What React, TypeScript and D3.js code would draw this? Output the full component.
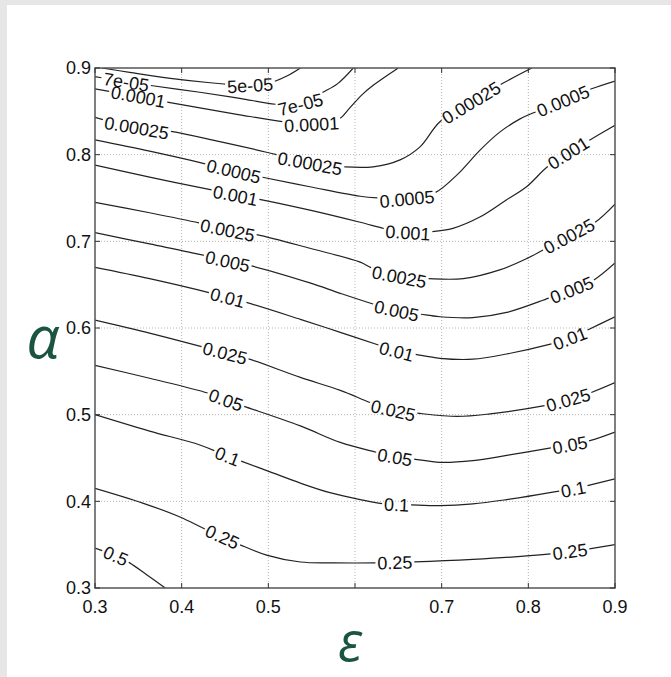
import React, { useEffect, useRef } from 'react';
import * as d3 from 'd3';

const xTicks = [0.3, 0.4, 0.5, 0.6, 0.7, 0.8, 0.9];
const xTickLabels = ['0.3', '0.4', '0.5', '', '0.7', '0.8', '0.9'];
const yTicks = [0.3, 0.4, 0.5, 0.6, 0.7, 0.8, 0.9];
const yTickLabels = ['0.3', '0.4', '0.5', '0.6', '0.7', '0.8', '0.9'];

// contour levels, top to bottom
const levels = ['5e-05', '7e-05', '0.0001', '0.00025', '0.0005', '0.001', '0.0025',
  '0.005', '0.01', '0.025', '0.05', '0.1', '0.25', '0.5'];

// points (epsilon, alpha), one list per level
const c5e05: [number, number][] = [[0.308, 0.900], [0.340, 0.895], [0.387, 0.888], [0.433, 0.883],
  [0.479, 0.880], [0.505, 0.884], [0.522, 0.891], [0.537, 0.900]];
const c7e05: [number, number][] = [[0.300, 0.890], [0.336, 0.884], [0.363, 0.880], [0.421, 0.872],
  [0.467, 0.865], [0.510, 0.858], [0.537, 0.858], [0.563, 0.872], [0.580, 0.882], [0.598, 0.900]];
const c0001: [number, number][] = [[0.300, 0.876], [0.350, 0.867], [0.381, 0.861], [0.421, 0.854],
  [0.467, 0.846], [0.517, 0.838], [0.550, 0.835], [0.580, 0.840], [0.594, 0.854], [0.608, 0.869],
  [0.621, 0.880], [0.650, 0.900]];
const c00025: [number, number][] = [[0.300, 0.843], [0.348, 0.831], [0.387, 0.827], [0.444, 0.815],
  [0.510, 0.800], [0.548, 0.790], [0.586, 0.786], [0.621, 0.786], [0.652, 0.794], [0.675, 0.809],
  [0.698, 0.838], [0.734, 0.860], [0.770, 0.882], [0.804, 0.900]];
const c0005: [number, number][] = [[0.300, 0.817], [0.363, 0.804], [0.429, 0.789], [0.460, 0.781],
  [0.493, 0.774], [0.548, 0.763], [0.606, 0.752], [0.629, 0.750], [0.660, 0.749], [0.692, 0.756],
  [0.718, 0.777], [0.744, 0.805], [0.767, 0.826], [0.790, 0.841], [0.810, 0.850], [0.840, 0.862],
  [0.873, 0.876], [0.900, 0.885]];
const c001: [number, number][] = [[0.300, 0.788], [0.363, 0.774], [0.436, 0.759], [0.462, 0.753],
  [0.487, 0.749], [0.548, 0.736], [0.606, 0.722], [0.637, 0.714], [0.661, 0.710], [0.687, 0.711],
  [0.713, 0.715], [0.744, 0.728], [0.775, 0.748], [0.798, 0.763], [0.822, 0.786], [0.846, 0.802],
  [0.871, 0.817], [0.900, 0.834]];
const c0025: [number, number][] = [[0.300, 0.745], [0.363, 0.733], [0.421, 0.721], [0.453, 0.713],
  [0.485, 0.708], [0.548, 0.692], [0.606, 0.676], [0.620, 0.669], [0.651, 0.659], [0.683, 0.657],
  [0.725, 0.657], [0.767, 0.667], [0.798, 0.680], [0.817, 0.690], [0.847, 0.706], [0.877, 0.722],
  [0.900, 0.743]];
const c005: [number, number][] = [[0.300, 0.710], [0.363, 0.697], [0.425, 0.684], [0.453, 0.677],
  [0.479, 0.672], [0.548, 0.652], [0.583, 0.640], [0.623, 0.627], [0.648, 0.620], [0.675, 0.616],
  [0.698, 0.613], [0.736, 0.612], [0.775, 0.618], [0.825, 0.635], [0.850, 0.644], [0.875, 0.655],
  [0.900, 0.675]];
const c01: [number, number][] = [[0.300, 0.670], [0.363, 0.657], [0.435, 0.640], [0.453, 0.635],
  [0.473, 0.630], [0.537, 0.610], [0.583, 0.595], [0.631, 0.579], [0.648, 0.573], [0.667, 0.570],
  [0.698, 0.565], [0.736, 0.564], [0.775, 0.570], [0.828, 0.582], [0.848, 0.588], [0.869, 0.598],
  [0.900, 0.613]];
const c025: [number, number][] = [[0.300, 0.609], [0.363, 0.594], [0.425, 0.578], [0.450, 0.571],
  [0.475, 0.565], [0.537, 0.543], [0.583, 0.528], [0.620, 0.513], [0.644, 0.505], [0.669, 0.502],
  [0.718, 0.498], [0.756, 0.501], [0.822, 0.511], [0.846, 0.517], [0.871, 0.525], [0.900, 0.537]];
const c05: [number, number][] = [[0.300, 0.557], [0.363, 0.542], [0.430, 0.525], [0.451, 0.517],
  [0.471, 0.510], [0.537, 0.487], [0.583, 0.468], [0.627, 0.456], [0.646, 0.451], [0.666, 0.449],
  [0.698, 0.445], [0.736, 0.447], [0.775, 0.453], [0.828, 0.462], [0.848, 0.465], [0.871, 0.470],
  [0.900, 0.480]];
const c1: [number, number][] = [[0.300, 0.500], [0.363, 0.481], [0.421, 0.465], [0.453, 0.452],
  [0.467, 0.447], [0.502, 0.434], [0.537, 0.421], [0.571, 0.410], [0.606, 0.402], [0.635, 0.397],
  [0.663, 0.396], [0.698, 0.395], [0.736, 0.397], [0.775, 0.402], [0.837, 0.412], [0.852, 0.414],
  [0.868, 0.418], [0.900, 0.426]];
const c25: [number, number][] = [[0.300, 0.415], [0.355, 0.398], [0.398, 0.382], [0.425, 0.369],
  [0.447, 0.359], [0.467, 0.350], [0.498, 0.338], [0.537, 0.330], [0.575, 0.329], [0.625, 0.329],
  [0.666, 0.330], [0.736, 0.333], [0.798, 0.337], [0.848, 0.342], [0.900, 0.350]];
const c5: [number, number][] = [[0.300, 0.346], [0.324, 0.337], [0.340, 0.329], [0.360, 0.315],
  [0.381, 0.300]];

const contours = [c5e05, c7e05, c0001, c00025, c0005, c001, c0025, c005, c01, c025, c05, c1, c25, c5];

// epsilon where each inline label sits
const labelAt = [[0.479], [0.336, 0.537], [0.350, 0.550], [0.348, 0.548, 0.734],
  [0.460, 0.660, 0.840], [0.462, 0.661, 0.846], [0.453, 0.651, 0.847], [0.453, 0.648, 0.850],
  [0.453, 0.648, 0.848], [0.450, 0.644, 0.846], [0.451, 0.646, 0.848], [0.453, 0.648, 0.852],
  [0.447, 0.646, 0.848], [0.324]];

const W = 671;
const H = 677;

export default function App() {
  const ref = useRef<SVGSVGElement>(null);

  useEffect(() => {
    const svg = d3.select(ref.current);
    svg.selectAll('*').remove();

    const left = 95, right = 615, top = 68, bottom = 588;
    const x = d3.scaleLinear().domain([0.3, 0.9]).range([left, right]);
    const y = d3.scaleLinear().domain([0.3, 0.9]).range([bottom, top]);
    const font = '"Liberation Sans", Arial, Helvetica, sans-serif';

    svg.append('rect').attr('width', W).attr('height', H).attr('fill', '#fff');
    svg.append('rect').attr('width', W).attr('height', 5).attr('fill', '#e6e6e6');
    svg.append('rect').attr('width', 7).attr('height', H).attr('fill', '#e6e6e6');

    // dotted grid
    const grid = svg.append('g').attr('stroke', '#b4b4b4').attr('stroke-dasharray', '1,2').attr('stroke-width', 1);
    xTicks.slice(1, -1).forEach(t => {
      grid.append('line').attr('x1', x(t)).attr('x2', x(t)).attr('y1', top).attr('y2', bottom);
    });
    yTicks.slice(1, -1).forEach(t => {
      grid.append('line').attr('y1', y(t)).attr('y2', y(t)).attr('x1', left).attr('x2', right);
    });

    svg.append('clipPath').attr('id', 'plotclip').append('rect')
      .attr('x', left).attr('y', top).attr('width', right - left).attr('height', bottom - top);

    const line = d3.line<[number, number]>()
      .x(d => x(d[0]))
      .y(d => y(d[1]))
      .curve(d3.curveCatmullRom.alpha(0.5));

    const g = svg.append('g');
    levels.forEach((lev, i) => {
      const path = g.append('path')
        .attr('d', line(contours[i]))
        .attr('fill', 'none')
        .attr('stroke', '#222')
        .attr('stroke-width', 1.2)
        .attr('clip-path', 'url(#plotclip)');
      const node = path.node() as SVGPathElement;
      const total = node.getTotalLength();
      const gaps: [number, number][] = [];

      labelAt[i].forEach(lx => {
        const px = x(lx);
        let lo = 0, hi = total;
        for (let k = 0; k < 30; k++) {
          const mid = (lo + hi) / 2;
          if (node.getPointAtLength(mid).x < px) lo = mid; else hi = mid;
        }
        const L = (lo + hi) / 2;
        const text = g.append('text')
          .text(lev)
          .attr('font-family', font)
          .attr('font-size', 18)
          .attr('fill', '#111')
          .attr('text-anchor', 'middle')
          .attr('dy', '0.36em');
        const w = (text.node() as SVGTextElement).getComputedTextLength();
        const hw = w / 2 + 2;
        const p0 = node.getPointAtLength(Math.max(0, L - hw));
        const p1 = node.getPointAtLength(Math.min(total, L + hw));
        const ang = Math.atan2(p1.y - p0.y, p1.x - p0.x) * 180 / Math.PI;
        const c = node.getPointAtLength(L);
        text.attr('transform', `translate(${c.x},${c.y}) rotate(${ang})`);
        gaps.push([Math.max(0, L - hw), Math.min(total, L + hw)]);
      });

      gaps.sort((a, b) => a[0] - b[0]);
      const dash: number[] = [];
      let pos = 0;
      gaps.forEach(([a, b]) => {
        dash.push(Math.max(0, a - pos), b - Math.max(a, pos));
        pos = b;
      });
      dash.push(total - pos + 1, total + 10);
      path.attr('stroke-dasharray', dash.join(','));
    });

    // axes box and inward ticks
    svg.append('rect')
      .attr('x', left).attr('y', top).attr('width', right - left).attr('height', bottom - top)
      .attr('fill', 'none').attr('stroke', '#555').attr('stroke-width', 1.5);
    const ticks = svg.append('g').attr('stroke', '#333').attr('stroke-width', 1);
    xTicks.forEach(t => {
      ticks.append('line').attr('x1', x(t)).attr('x2', x(t)).attr('y1', bottom).attr('y2', bottom - 5);
      ticks.append('line').attr('x1', x(t)).attr('x2', x(t)).attr('y1', top).attr('y2', top + 5);
    });
    yTicks.forEach(t => {
      ticks.append('line').attr('y1', y(t)).attr('y2', y(t)).attr('x1', left).attr('x2', left + 5);
      ticks.append('line').attr('y1', y(t)).attr('y2', y(t)).attr('x1', right).attr('x2', right - 5);
    });

    xTicks.forEach((t, i) => {
      svg.append('text').text(xTickLabels[i])
        .attr('x', x(t)).attr('y', bottom + 25)
        .attr('text-anchor', 'middle')
        .attr('font-family', font).attr('font-size', 18).attr('fill', '#111');
    });
    yTicks.forEach((t, i) => {
      svg.append('text').text(yTickLabels[i])
        .attr('x', left - 4).attr('y', y(t)).attr('dy', '0.36em')
        .attr('text-anchor', 'end')
        .attr('font-family', font).attr('font-size', 18).attr('fill', '#111');
    });

    // greek axis names
    const greek = '"Open Sans", "Noto Sans", "DejaVu Sans", sans-serif';
    svg.append('text').text('α')
      .attr('x', 43).attr('y', 358).attr('text-anchor', 'middle')
      .attr('font-family', greek).attr('font-style', 'italic').attr('font-size', 58)
      .attr('fill', '#1b5442');
    svg.append('text').text('ε')
      .attr('x', 350).attr('y', 661).attr('text-anchor', 'middle')
      .attr('font-family', greek).attr('font-style', 'italic').attr('font-size', 54)
      .attr('fill', '#1b5442');
  }, []);

  return (
    <svg ref={ref} width={W} height={H}
      style={{ position: 'absolute', left: 0, top: 0, display: 'block' }} />
  );
}
